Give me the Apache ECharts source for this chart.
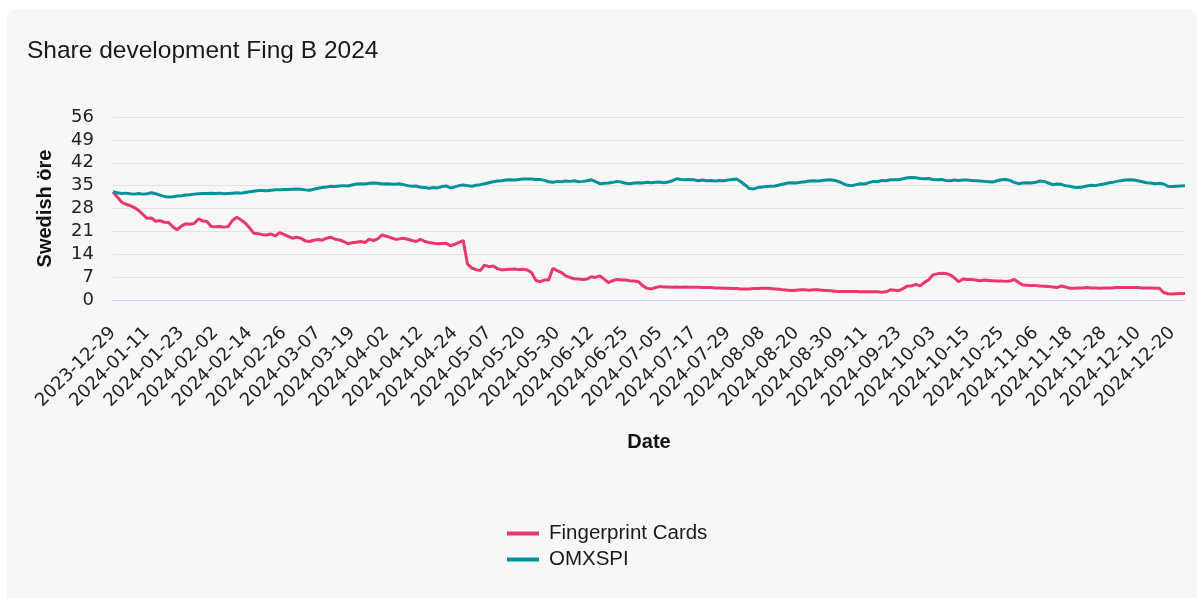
<!DOCTYPE html>
<html>
<head>
<meta charset="utf-8">
<script src="https://cdn.jsdelivr.net/npm/echarts@6/dist/echarts.min.js"></script>
<style>
  html, body { margin: 0; padding: 0; background: #ffffff; }
  #card { position: absolute; left: 7px; top: 9px; width: 1190px; height: 600px; background: #f7f7f7; border-radius: 8px; }
  #main { position: absolute; left: 0; top: 0; width: 1197px; height: 598px; }
</style>
</head>
<body>
<div id="card"></div>
<div id="main"></div>
<script>
// Stockholm trading days, 2023-12-29 .. 2024-12-30
var holidays = ['2024-01-01', '2024-03-29', '2024-04-01', '2024-05-01', '2024-05-09',
  '2024-06-06', '2024-06-21', '2024-12-24', '2024-12-25', '2024-12-26', '2024-12-31'];
var dates = ['2023-12-29'];
(function () {
  var d = new Date(Date.UTC(2024, 0, 1));
  while (d.getUTCFullYear() === 2024) {
    var s = d.toISOString().slice(0, 10);
    var wd = d.getUTCDay();
    if (wd !== 0 && wd !== 6 && holidays.indexOf(s) < 0) dates.push(s);
    d.setUTCDate(d.getUTCDate() + 1);
  }
})();

var yTicks = [0, 7, 14, 21, 28, 35, 42, 49, 56];

// Fingerprint Cards, öre
var fingerprint = [
  33.1, 31.5, 30.0, 29.3, 28.9, 28.3, 27.4, 26.2, 25.0, 25.1,
  24.1, 24.3, 23.8, 23.7, 22.4, 21.5, 22.6, 23.3, 23.2, 23.4,
  24.8, 24.2, 24.0, 22.5, 22.4, 22.5, 22.3, 22.5, 24.4, 25.3,
  24.5, 23.5, 22.0, 20.4, 20.3, 20.0, 19.9, 20.2, 19.6, 20.6,
  20.1, 19.5, 18.9, 19.2, 18.9, 18.1, 17.9, 18.3, 18.5, 18.3,
  18.9, 19.2, 18.6, 18.4, 17.9, 17.2, 17.5, 17.7, 17.9, 17.6,
  18.6, 18.2, 18.7, 19.9, 19.5, 19.1, 18.6, 18.7, 18.9, 18.6,
  18.2, 17.9, 18.6, 17.9, 17.6, 17.4, 17.2, 17.3, 17.4, 16.6,
  17.0, 17.6, 18.2, 11.0, 9.8, 9.3, 9.0, 10.7, 10.2, 10.4,
  9.6, 9.2, 9.3, 9.4, 9.5, 9.3, 9.4, 9.2, 8.4, 6.0,
  5.6, 6.1, 6.1, 9.7, 9.0, 8.4, 7.4, 6.9, 6.5, 6.4,
  6.3, 6.4, 7.1, 6.9, 7.4, 6.4, 5.3, 5.9, 6.3, 6.1,
  6.1, 5.9, 5.8, 5.6, 4.4, 3.6, 3.4, 3.8, 4.1, 4.0,
  4.0, 3.9, 4.0, 3.9, 4.0, 3.9, 3.9, 3.9, 3.8, 3.8,
  3.8, 3.7, 3.7, 3.6, 3.6, 3.5, 3.5, 3.4, 3.4, 3.4,
  3.5, 3.5, 3.6, 3.6, 3.5, 3.4, 3.3, 3.1, 3.0, 2.9,
  3.0, 3.1, 3.1, 3.0, 3.1, 3.1, 3.0, 2.9, 2.8, 2.7,
  2.6, 2.6, 2.6, 2.6, 2.6, 2.5, 2.5, 2.5, 2.5, 2.5,
  2.4, 2.5, 3.1, 3.0, 2.9, 3.5, 4.3, 4.3, 4.8, 4.3,
  5.4, 6.2, 7.7, 8.0, 8.2, 8.1, 7.7, 6.8, 5.6, 6.4,
  6.3, 6.3, 6.1, 5.9, 6.1, 6.0, 5.9, 5.8, 5.8, 5.7,
  5.8, 6.3, 5.4, 4.6, 4.5, 4.4, 4.4, 4.3, 4.2, 4.1,
  4.0, 3.8, 4.3, 4.0, 3.6, 3.6, 3.7, 3.7, 3.8, 3.7,
  3.7, 3.6, 3.7, 3.7, 3.7, 3.8, 3.8, 3.8, 3.8, 3.8,
  3.8, 3.7, 3.7, 3.7, 3.6, 3.6, 2.3, 1.9, 1.8, 1.9,
  2.0, 2.0
];

// OMXSPI, rebased
var omxspi = [
  33.1, 32.8, 32.6, 32.7, 32.5, 32.4, 32.6, 32.4, 32.5, 32.8,
  32.5, 32.1, 31.7, 31.5, 31.6, 31.8, 31.9, 32.1, 32.2, 32.4,
  32.5, 32.6, 32.6, 32.7, 32.6, 32.7, 32.5, 32.6, 32.7, 32.8,
  32.7, 32.9, 33.1, 33.3, 33.5, 33.5, 33.4, 33.6, 33.7, 33.7,
  33.8, 33.8, 33.9, 34.0, 33.9, 33.7, 33.6, 33.9, 34.2, 34.4,
  34.6, 34.8, 34.7, 34.9, 35.0, 34.9, 35.2, 35.5, 35.6, 35.5,
  35.7, 35.8, 35.7, 35.5, 35.6, 35.5, 35.4, 35.6, 35.3, 35.0,
  34.8, 34.9, 34.5, 34.4, 34.2, 34.4, 34.3, 34.7, 34.9, 34.3,
  34.6, 35.0, 35.2, 35.0, 34.8, 35.1, 35.3, 35.6, 35.9, 36.2,
  36.4, 36.5, 36.7, 36.8, 36.7, 36.9, 37.0, 37.0, 37.0, 36.9,
  36.9, 36.6, 36.2, 36.0, 36.3, 36.2, 36.4, 36.3, 36.5, 36.2,
  36.3, 36.5, 36.8, 36.2, 35.6, 35.7, 35.8, 36.0, 36.3, 36.1,
  35.7, 35.6, 35.8, 35.9, 35.8, 36.0, 35.9, 36.0, 36.1, 35.9,
  36.1, 36.5, 37.1, 36.9, 36.8, 36.9, 36.8, 36.5, 36.7, 36.5,
  36.6, 36.4, 36.6, 36.5, 36.7, 36.9, 37.0, 36.2, 35.2, 34.1,
  34.0, 34.4, 34.6, 34.7, 34.8, 34.9, 35.2, 35.5, 35.8, 35.9,
  35.8, 36.0, 36.2, 36.4, 36.5, 36.4, 36.6, 36.7, 36.8, 36.6,
  36.2, 35.6, 35.1, 35.0, 35.3, 35.6, 35.5, 35.9, 36.3, 36.2,
  36.6, 36.5, 36.8, 36.8, 36.8, 37.1, 37.4, 37.5, 37.4, 37.2,
  37.1, 37.2, 36.9, 36.8, 36.9, 36.6, 36.5, 36.7, 36.6, 36.7,
  36.7, 36.6, 36.5, 36.4, 36.3, 36.2, 36.1, 36.5, 36.8, 36.9,
  36.6, 36.0, 35.6, 35.8, 35.9, 35.8, 36.0, 36.4, 36.3, 35.8,
  35.3, 35.5, 35.4, 35.0, 34.8, 34.5, 34.4, 34.6, 34.9, 35.1,
  35.0, 35.3, 35.5, 35.8, 36.0, 36.3, 36.5, 36.7, 36.8, 36.7,
  36.5, 36.2, 35.9, 35.8, 35.6, 35.7, 35.5, 34.8, 34.7, 34.8,
  34.9, 35.0
];

var dom = document.getElementById('main');
var myChart = echarts.init(dom, null, { renderer: 'canvas' });

var option = {
  animation: false,
  backgroundColor: 'transparent',
  title: {
    text: 'Share development Fing B 2024',
    left: 22,
    top: 34,
    textStyle: {
      color: '#1a1a1a',
      fontSize: 24.5,
      fontWeight: 'normal',
      fontFamily: 'Liberation Sans, Arial, sans-serif'
    }
  },
  legend: {
    orient: 'vertical',
    left: 502,
    top: 518,
    icon: 'rect',
    itemWidth: 32,
    itemHeight: 4,
    itemGap: 5,
    data: ['Fingerprint Cards', 'OMXSPI'],
    textStyle: {
      color: '#1a1a1a',
      fontSize: 20.5,
      padding: [0, 0, 0, 5],
      fontFamily: 'Liberation Sans, Arial, sans-serif'
    }
  },
  grid: {
    left: 113,
    right: 12,
    top: 117,
    bottom: 298,
    outerBoundsMode: 'none'
  },
  xAxis: {
    type: 'category',
    boundaryGap: false,
    data: dates,
    name: 'Date',
    nameLocation: 'middle',
    nameGap: 132,
    nameTextStyle: {
      color: '#111',
      fontSize: 20,
      fontWeight: 'bold',
      fontFamily: 'Liberation Sans, Arial, sans-serif'
    },
    axisLine: { lineStyle: { color: '#ccd6eb', width: 1 } },
    axisTick: { show: false },
    axisLabel: {
      interval: 7,
      rotate: 45,
      margin: 30,
      color: '#222',
      fontSize: 18,
      fontFamily: 'DejaVu Sans, sans-serif'
    },
    splitLine: { show: false }
  },
  yAxis: {
    type: 'value',
    min: yTicks[0],
    max: yTicks[yTicks.length - 1],
    interval: 7,
    name: 'Swedish öre',
    nameLocation: 'middle',
    nameGap: 58,
    nameTextStyle: {
      color: '#111',
      fontSize: 20,
      fontWeight: 'bold',
      fontFamily: 'Liberation Sans, Arial, sans-serif'
    },
    axisLine: { show: false },
    axisTick: { show: false },
    axisLabel: {
      margin: 19,
      color: '#222',
      fontSize: 18,
      fontFamily: 'DejaVu Sans, sans-serif'
    },
    splitLine: { lineStyle: { color: '#e3e3e3', width: 1 } }
  },
  series: [
    {
      name: 'Fingerprint Cards',
      type: 'line',
      data: fingerprint,
      symbol: 'none',
      lineStyle: { color: '#e8386c', width: 3 },
      itemStyle: { color: '#e8386c' }
    },
    {
      name: 'OMXSPI',
      type: 'line',
      data: omxspi,
      symbol: 'none',
      lineStyle: { color: '#00929b', width: 3 },
      itemStyle: { color: '#00929b' }
    }
  ]
};

if (option && typeof option === 'object') {
  myChart.setOption(option, true);
}
</script>
</body>
</html>
